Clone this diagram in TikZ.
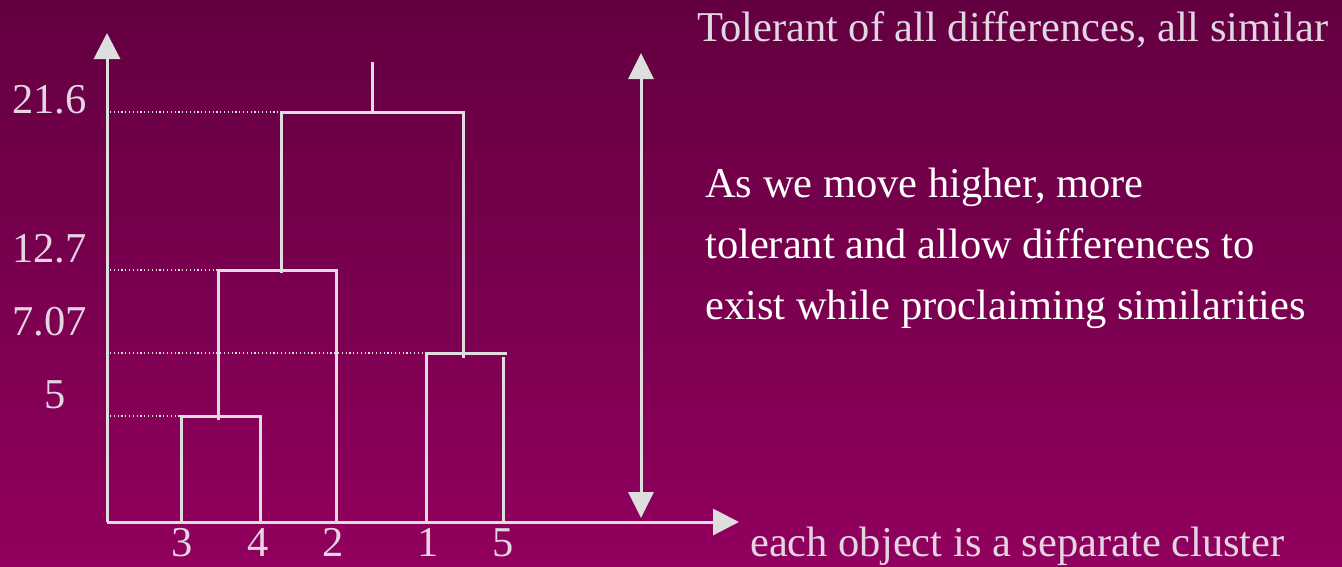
\documentclass[tikz,border=0pt]{standalone}
\usepackage{fontspec}
\setmainfont{Liberation Serif}
\usetikzlibrary{arrows.meta}
\definecolor{bgtop}{RGB}{99,0,64}
\definecolor{bgbot}{RGB}{145,0,94}
\definecolor{linec}{RGB}{222,222,222}
\definecolor{labc}{RGB}{226,214,226}
\tikzset{
  dline/.style={draw=linec, line width=3pt},
  dotln/.style={draw=linec, line width=1.2pt, dash pattern=on 1.2pt off 2.6pt},
  axarrow/.style={dline, -{Triangle[length=26pt, width=26pt]}},
  lab/.style={text=labc, font=\fontsize{42.5}{50}\selectfont, inner sep=0pt},
  wlab/.style={text=white, font=\fontsize{42.5}{50}\selectfont, inner sep=0pt, align=left},
}
\begin{document}
\begin{tikzpicture}[x=1pt,y=-1pt]
\shade[top color=bgtop, bottom color=bgbot] (0,0) rectangle (1342,566);
\useasboundingbox (0,0) rectangle (1342,566);
% axes
\coordinate (O) at (107,522);
\coordinate (ytip) at (107,33);
\coordinate (xtip) at (739,522);
\draw[axarrow] (O) -- (ytip);
\draw[axarrow] (O) -- (xtip);
% leaves
\coordinate (l3) at (181,522);
\coordinate (l4) at (260,522);
\coordinate (l2) at (336,522);
\coordinate (l1) at (426,522);
\coordinate (l5) at (503,522);
% merges
\coordinate (m34l) at (181,416);
\coordinate (m34r) at (262,416);
\coordinate (m34) at (218,416);
\coordinate (m342l) at (218,270);
\coordinate (m342r) at (336,270);
\coordinate (m342) at (281,270);
\coordinate (m15l) at (426,353);
\coordinate (m15r) at (507,353);
\coordinate (m15) at (463,353);
\coordinate (rootl) at (281,112);
\coordinate (rootr) at (463,112);
\coordinate (root) at (372,112);
\coordinate (roottop) at (372,62);
% dendrogram
\draw[dline] (l3) -- (m34l) -- (m34r);
\draw[dline] (l4) -- (260,416);
\draw[dline] ([yshift=-4pt]m34) -- (m342l) -- (m342r) -- (l2);
\draw[dline] ([yshift=-3pt]m342) -- (rootl) -- (rootr) -- ([yshift=-5pt]m15);
\draw[dline] (l1) -- (m15l) -- (m15r);
\draw[dline] (l5) -- (503,357);
\draw[dline] (root) -- (roottop);
% dotted guides
\draw[dotln] (110,112) -- (rootl);
\draw[dotln] (110,270) -- (m342l);
\draw[dotln] (110,353) -- (m15l);
\draw[dotln] (110,416) -- (m34l);
% y labels
\node[lab, anchor=base east] (y216) at (87,113) {21.6};
\node[lab, anchor=base east] (y127) at (87,262) {12.7};
\node[lab, anchor=base east] (y707) at (87,335) {7.07};
\node[lab, anchor=base] (y5) at (55,408) {5};
% leaf labels
\node[lab, anchor=base] (t3) at (182,556) {3};
\node[lab, anchor=base] (t4) at (258,556) {4};
\node[lab, anchor=base] (t2) at (333,556) {2};
\node[lab, anchor=base] (t1) at (428,556) {1};
\node[lab, anchor=base] (t5) at (503,556) {5};
% double arrow
\coordinate (dtop) at (641,53);
\coordinate (dbot) at (641,518);
\draw[dline, {Triangle[length=26pt, width=25pt]}-{Triangle[length=26pt, width=25pt]}] (dtop) -- (dbot);
% texts
\node[lab, anchor=base west] (toptxt) at (697,41) {Tolerant of all differences, all similar};
\node[lab, anchor=base west] (bottxt) at (750,556) {each object is a separate cluster};
\node[wlab, anchor=base west] (mid1) at (705,197) {As we move higher, more};
\node[wlab, anchor=base west] (mid2) at (705,258) {tolerant and allow differences to};
\node[wlab, anchor=base west] (mid3) at (705,319) {exist while proclaiming similarities};
\end{tikzpicture}
\end{document}
